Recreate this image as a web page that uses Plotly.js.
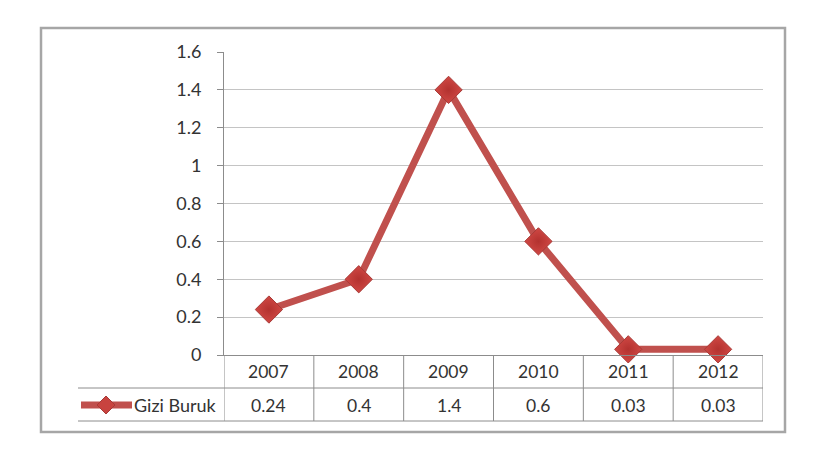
<!DOCTYPE html>
<html>
<head>
<meta charset="utf-8">
<script src="https://cdn.plot.ly/plotly-3.0.1.min.js"></script>
<style>html,body{margin:0;padding:0;background:#fff;}#chart{width:823px;height:456px;}</style>
</head>
<body>
<div id="chart"></div>
<script>
const years = ["2007", "2008", "2009", "2010", "2011", "2012"];
const values = [0.24, 0.4, 1.4, 0.6, 0.03, 0.03];
const valueLabels = ["0.24", "0.4", "1.4", "0.6", "0.03", "0.03"];
const seriesName = "Gizi Buruk";
const yTicks = [0, 0.2, 0.4, 0.6, 0.8, 1, 1.2, 1.4, 1.6];

const W = 823, H = 456;
const M = {l: 224, r: 60, t: 52, b: 101};
const pw = W - M.l - M.r, ph = H - M.t - M.b;
const px = x => (x - M.l) / pw;               // pixel x -> paper x
const py = y => (H - M.b - y) / ph;           // pixel y -> paper y

const red = "#C0504D";
const gridCol = "#c4c4c4";
const lineCol = "#8c8c8c";
const font = "Lato, 'Open Sans', sans-serif";
const tblSize = 17.5;

const shapes = [];
const annotations = [];

// outer chart border
shapes.push({type: "rect", xref: "paper", yref: "paper",
  x0: px(41), x1: px(785), y0: py(432), y1: py(28),
  line: {color: "#a6a6a6", width: 2.5}, fillcolor: "rgba(0,0,0,0)", layer: "below"});

// data table horizontal lines
[388, 421].forEach(yy => shapes.push({type: "line", xref: "paper", yref: "paper",
  x0: px(78), x1: 1, y0: py(yy), y1: py(yy), line: {color: lineCol, width: 1}}));
// vertical column separators
for (let i = 0; i <= years.length; i++) {
  shapes.push({type: "line", xref: "x", yref: "paper",
    x0: i - 0.5, x1: i - 0.5, y0: py(421), y1: 0, line: {color: lineCol, width: 1}});
}
// table text
years.forEach((yr, i) => {
  annotations.push({xref: "x", yref: "paper", x: i, y: py(372), text: yr, showarrow: false,
    font: {family: font, size: tblSize, color: "#333"}, xanchor: "center", yanchor: "middle"});
  annotations.push({xref: "x", yref: "paper", x: i, y: py(405), text: valueLabels[i], showarrow: false,
    font: {family: font, size: tblSize, color: "#333"}, xanchor: "center", yanchor: "middle"});
});
// legend key
shapes.push({type: "line", xref: "paper", yref: "paper",
  x0: px(81), x1: px(132), y0: py(405), y1: py(405), line: {color: red, width: 7}});
const dx = 9, dy = 9, cx = 106, cy = 405;
shapes.push({type: "path", xref: "paper", yref: "paper",
  path: `M ${px(cx - dx)} ${py(cy)} L ${px(cx)} ${py(cy - dy)} L ${px(cx + dx)} ${py(cy)} L ${px(cx)} ${py(cy + dy)} Z`,
  fillcolor: "#C8433F", line: {color: "#a83a37", width: 1}});
annotations.push({xref: "paper", yref: "paper", x: px(219), y: py(405), text: seriesName, showarrow: false,
  font: {family: font, size: 18, color: "#333"}, xanchor: "right", yanchor: "middle"});

const trace = {
  x: years.map((_, i) => i), y: values, type: "scatter", mode: "lines+markers", name: seriesName,
  line: {color: red, width: 7},
  marker: {symbol: "diamond", size: 21, color: "#D04844", line: {color: "#a83a37", width: 1},
    gradient: {type: "radial", color: "#b3322f"}},
  cliponaxis: false
};

const layout = {
  width: W, height: H, margin: M, showlegend: false,
  paper_bgcolor: "#fff", plot_bgcolor: "#fff",
  font: {family: font, size: 16, color: "#333"},
  xaxis: {range: [-0.5, years.length - 0.5], showticklabels: false, showgrid: false, zeroline: false,
    showline: true, linecolor: lineCol, linewidth: 1, ticks: "", fixedrange: true},
  yaxis: {range: [0, 1.6], tickvals: yTicks, ticktext: yTicks.map(String), showgrid: true, gridcolor: gridCol, gridwidth: 1,
    zeroline: false, showline: true, linecolor: lineCol, linewidth: 1, ticks: "outside", ticklen: 6,
    tickcolor: lineCol, ticklabelstandoff: 12, tickfont: {family: font, size: 18, color: "#333"}},
  shapes: shapes, annotations: annotations
};

Plotly.newPlot("chart", [trace], layout, {displayModeBar: false, staticPlot: true});
</script>
</body>
</html>
